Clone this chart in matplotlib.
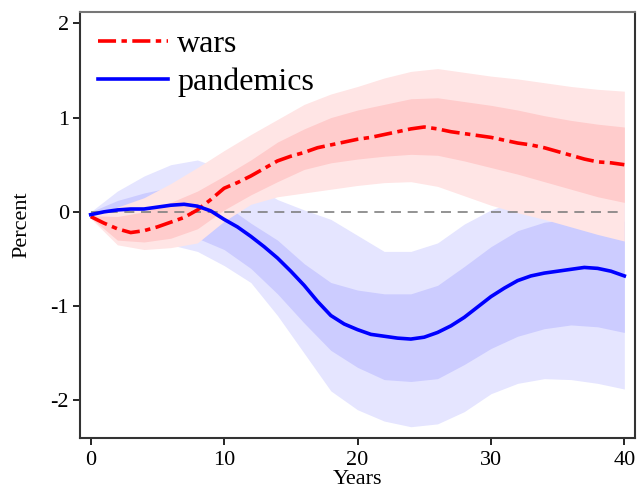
import numpy as np
import matplotlib.pyplot as plt

plt.rcParams['font.family'] = ['Liberation Serif', 'DejaVu Serif']
plt.rcParams['axes.unicode_minus'] = False

# yearly point estimates
years = np.arange(0, 41)
wars = [-0.05, -0.12, -0.18, -0.22, -0.20, -0.16, -0.11, -0.06, 0.02, 0.13,
        0.25, 0.31, 0.38, 0.46, 0.54, 0.59, 0.63, 0.68, 0.71, 0.74,
        0.77, 0.79, 0.82, 0.85, 0.88, 0.90, 0.88, 0.85, 0.83, 0.81,
        0.79, 0.76, 0.73, 0.71, 0.68, 0.64, 0.60, 0.56, 0.53, 0.52, 0.50]
pandemics = [-0.03, 0.00, 0.02, 0.03, 0.03, 0.05, 0.07, 0.08, 0.06, 0.01,
             -0.08, -0.16, -0.26, -0.37, -0.49, -0.63, -0.78, -0.95, -1.10, -1.19,
             -1.25, -1.30, -1.32, -1.34, -1.35, -1.33, -1.28, -1.21, -1.12, -1.01,
             -0.90, -0.81, -0.73, -0.68, -0.65, -0.63, -0.61, -0.59, -0.60, -0.63, -0.68]

# confidence bands, every 2 years
band_years = np.arange(0, 41, 2)
wars_hi90 = [-0.03, 0.05, 0.15, 0.30, 0.47, 0.65, 0.82, 0.98, 1.14, 1.25, 1.33,
             1.42, 1.49, 1.52, 1.48, 1.44, 1.41, 1.37, 1.33, 1.30, 1.28]
wars_hi68 = [-0.04, -0.05, 0.00, 0.10, 0.22, 0.38, 0.55, 0.74, 0.88, 1.00, 1.08,
             1.14, 1.20, 1.21, 1.17, 1.13, 1.08, 1.02, 0.97, 0.93, 0.90]
wars_lo68 = [-0.06, -0.30, -0.32, -0.28, -0.18, 0.02, 0.18, 0.32, 0.45, 0.52, 0.56,
             0.59, 0.61, 0.60, 0.54, 0.47, 0.40, 0.32, 0.24, 0.16, 0.10]
wars_lo90 = [-0.07, -0.35, -0.40, -0.38, -0.33, -0.10, 0.08, 0.16, 0.20, 0.24, 0.28,
             0.31, 0.32, 0.27, 0.17, 0.07, -0.01, -0.08, -0.16, -0.24, -0.31]
pand_hi90 = [0.00, 0.22, 0.38, 0.50, 0.55, 0.45, 0.30, 0.13, 0.02, -0.08, -0.25,
             -0.42, -0.42, -0.33, -0.13, 0.02, 0.12, 0.20, 0.25, 0.28, 0.30]
pand_hi68 = [0.00, 0.12, 0.20, 0.26, 0.28, 0.08, -0.12, -0.30, -0.55, -0.75, -0.83,
             -0.87, -0.87, -0.78, -0.58, -0.37, -0.20, -0.11, -0.08, -0.06, -0.10]
pand_lo68 = [-0.04, -0.05, -0.08, -0.15, -0.28, -0.40, -0.60, -0.87, -1.18, -1.47, -1.65,
             -1.78, -1.80, -1.77, -1.62, -1.45, -1.32, -1.24, -1.20, -1.22, -1.28]
pand_lo90 = [-0.05, -0.20, -0.30, -0.35, -0.42, -0.57, -0.75, -1.10, -1.50, -1.90, -2.10,
             -2.22, -2.28, -2.25, -2.12, -1.93, -1.82, -1.77, -1.78, -1.82, -1.88]

fig = plt.figure(figsize=(6.38, 5.01), dpi=100)
ax = fig.add_axes([0.1254, 0.1257, 0.8699, 0.8503])

ax.fill_between(band_years, pand_lo90, pand_hi90, color='#E5E5FF', lw=0)
ax.fill_between(band_years, pand_lo68, pand_hi68, color='#CCCCFF', lw=0)
ax.fill_between(band_years, wars_lo90, wars_hi90, color='#FFE5E5', lw=0)
ax.fill_between(band_years, wars_lo68, wars_hi68, color='#FFCCCC', lw=0)

ax.plot([years[0], years[-1]], [0, 0], color='#808080', lw=1.2, dashes=(6, 4))
ax.plot(years, wars, color='red', lw=2.6, dashes=(5, 1.5, 1.5, 1.5), label='wars')
ax.plot(years, pandemics, color='blue', lw=2.6, label='pandemics')

ax.set_xlim(-0.8, 40.8)
ax.set_ylim(-2.40, 2.12)
ax.set_xticks([0, 10, 20, 30, 40])
ax.set_yticks([2, 1, 0, -1, -2])
ax.tick_params(labelsize=16, length=5, width=1.2, direction='out')
ax.tick_params(axis='x', pad=4)
ax.tick_params(axis='y', pad=3)
for s in ax.spines.values():
    s.set_linewidth(1.5)
    s.set_color('#333333')
ax.spines['top'].set_color('#777777')

ax.set_xlabel('Years', fontsize=16, labelpad=0)
ax.set_ylabel('Percent', fontsize=16, labelpad=14)

ax.legend(loc='upper left', frameon=False, fontsize=23, handlelength=2.2,
          handletextpad=0.3, labelspacing=0.28, borderaxespad=0.05,
          borderpad=0.5)

fig.savefig('out.png', dpi=100)
